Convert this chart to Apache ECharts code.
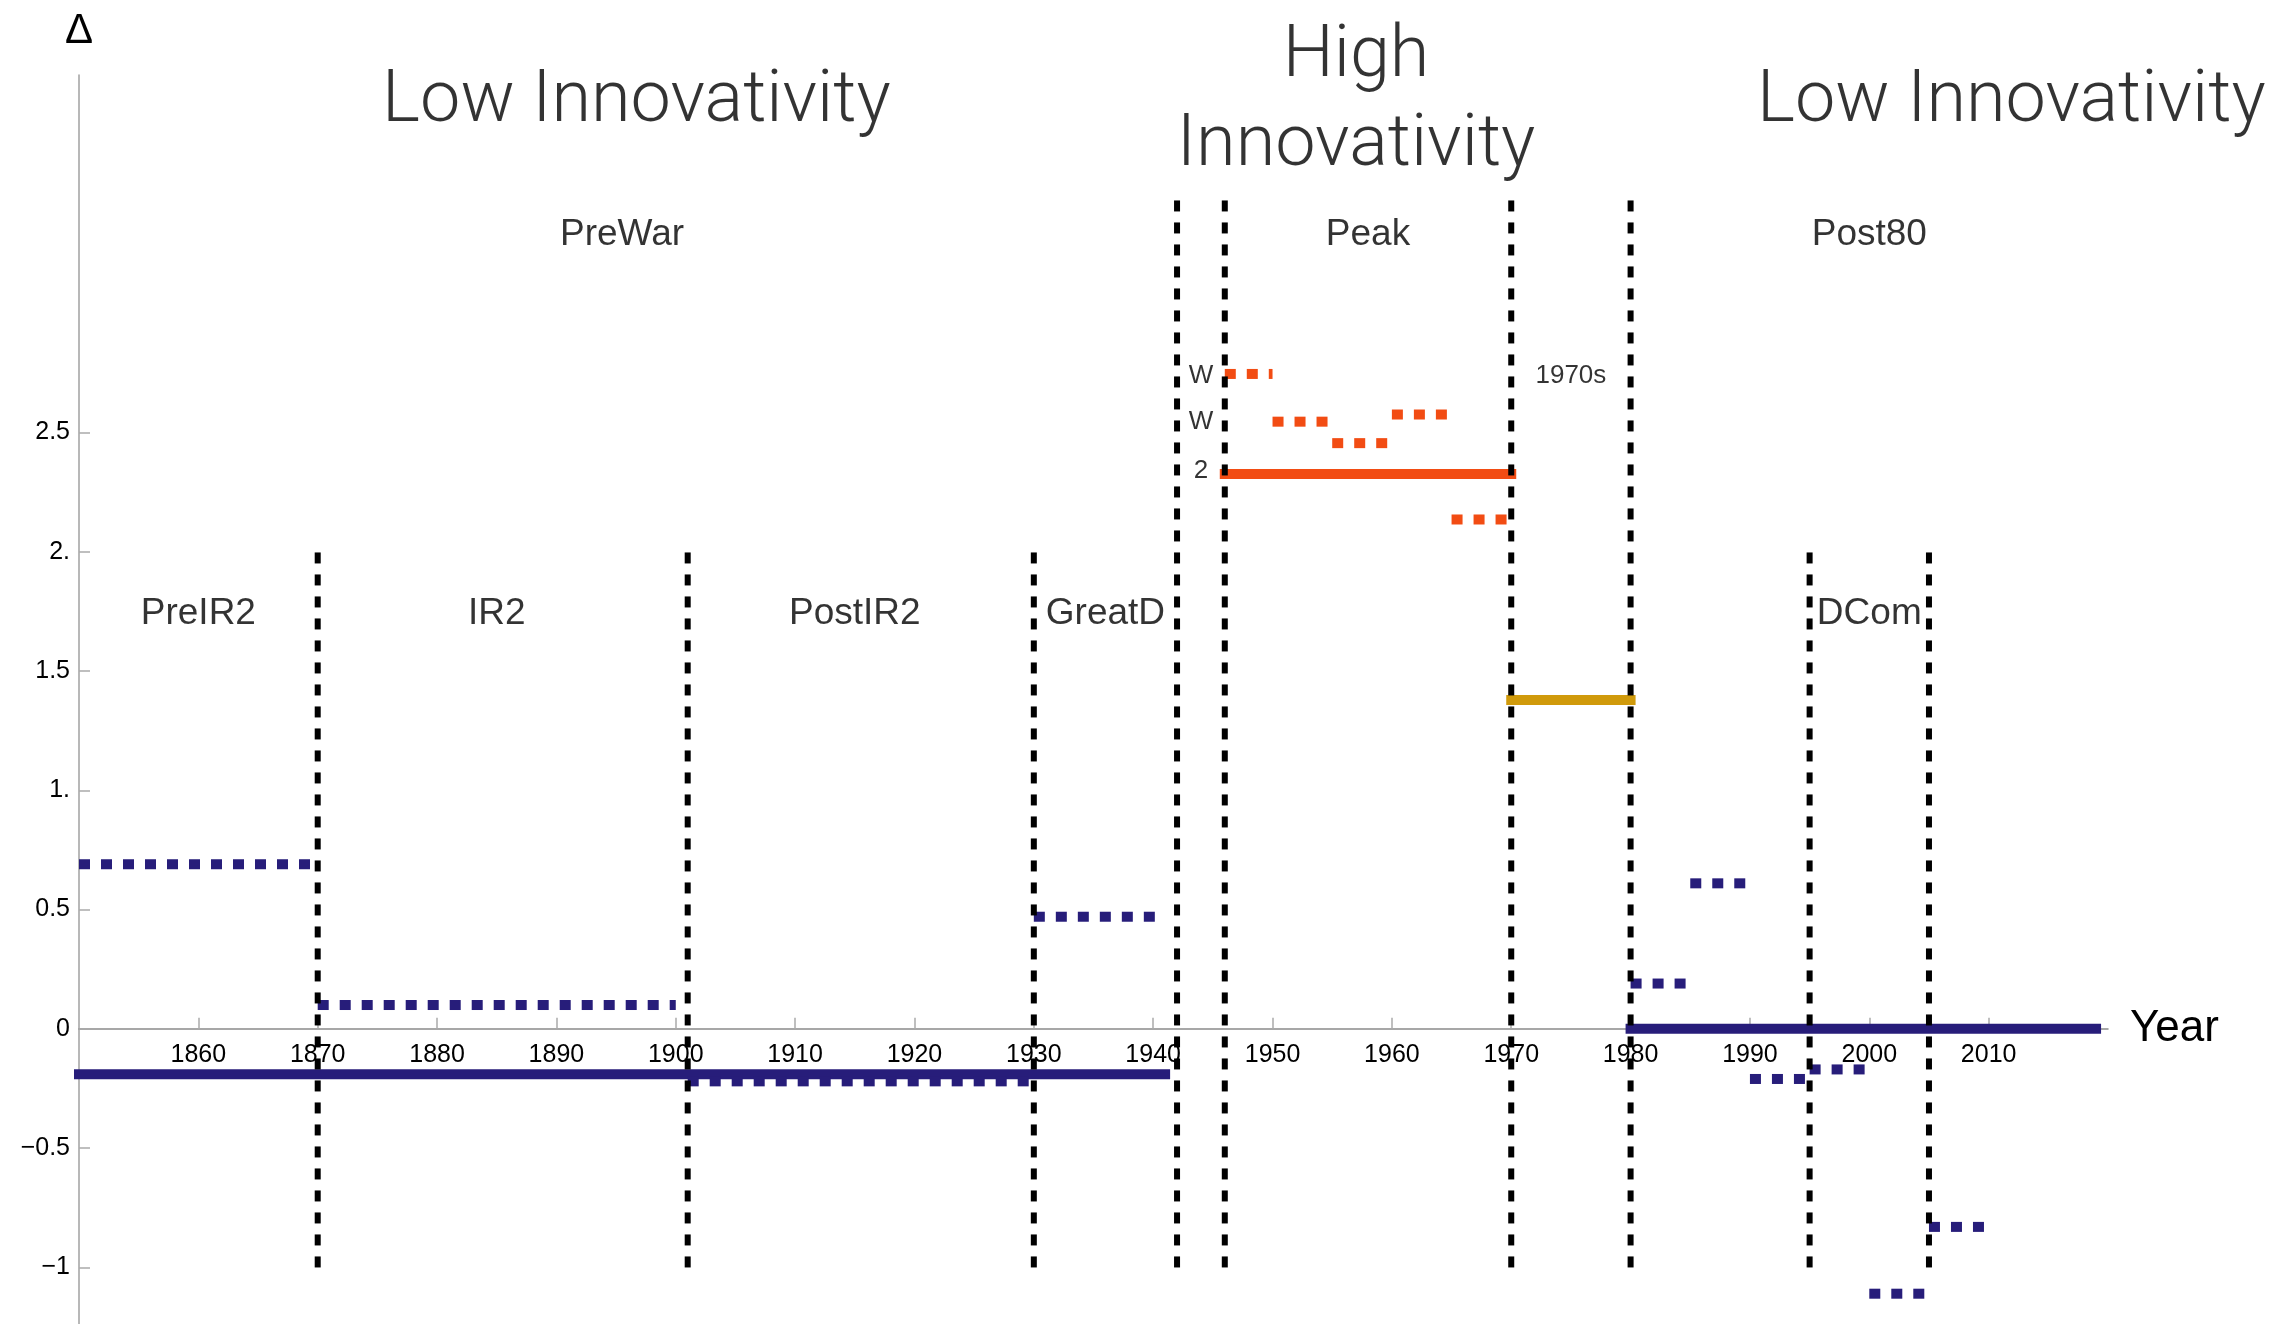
<!DOCTYPE html>
<html>
<head>
<meta charset="utf-8">
<script src="https://cdn.jsdelivr.net/npm/echarts@6/dist/echarts.min.js"></script>
<style>
html,body{margin:0;padding:0;background:#fff;}
#chart{width:2296px;height:1324px;}
</style>
</head>
<body>
<div id="chart"></div>
<script>
// ---- data ----
const xTicks = [1860, 1870, 1880, 1890, 1900, 1910, 1920, 1930, 1940, 1950, 1960, 1970, 1980, 1990, 2000, 2010];
const yTicks = [-1, -0.5, 0, 0.5, 1, 1.5, 2, 2.5];
const yTickLabels = ['\u22121', '\u22120.5', '0', '0.5', '1.', '1.5', '2.', '2.5'];

// [startYear, endYear, value]
const blueWhole = [[1850, 1941, -0.19], [1980, 2019, 0.0]];
const blueSub = [
  [1850, 1870, 0.69], [1870, 1900, 0.10], [1901, 1930, -0.22], [1930, 1941, 0.47],
  [1980, 1985, 0.19], [1985, 1990, 0.61], [1990, 1995, -0.21], [1995, 2000, -0.17],
  [2000, 2005, -1.11], [2005, 2010, -0.83]
];
const peakWhole = [[1946, 1970, 2.326]];
const peakSub = [[1946, 1950, 2.745], [1950, 1955, 2.545], [1955, 1960, 2.455], [1960, 1965, 2.575], [1965, 1970, 2.135]];
const seventiesWhole = [[1970, 1980, 1.378]];

// [year, top of boundary line]
const breaks = [[1870, 2], [1901, 2], [1930, 2], [1942, 3.5], [1946, 3.5], [1970, 3.5], [1980, 3.5], [1995, 2], [2005, 2]];
const breakBottom = -1;

// annotation texts: [year, value, text]
const titles = [[1896.7, 3.882, 'Low Innovativity'], [1957, 3.882, 'High\nInnovativity'], [2011.9, 3.882, 'Low Innovativity']];
const periods = [[1895.5, 3.33, 'PreWar'], [1958, 3.33, 'Peak'], [2000, 3.33, 'Post80'],
  [1860, 1.74, 'PreIR2'], [1885, 1.74, 'IR2'], [1915, 1.74, 'PostIR2'], [1936, 1.74, 'GreatD'], [2000, 1.74, 'DCom']];
const smallNotes = [[1975, 2.738, '1970s'], [1944, 2.738, 'W'], [1944, 2.545, 'W'], [1944, 2.34, '2']];

// ---- styles / layout ----
const BLUE = '#271d7a', ORANGE = '#f24c13', GOLD = '#d09a0b';
const FONT = '"Liberation Sans", Arial, Helvetica, sans-serif';
const TITLE_FONT = 'Roboto, "Liberation Sans", Arial, sans-serif';
const W = 2296, H = 1324;
const GRID = { left: 79, right: 188, top: 75, bottom: 0 };
const Y_MIN = -1.237, Y_MAX = 3.998;
const gridH = H - GRID.top - GRID.bottom;
// x axis sits on the zero line: shift the bottom axis up by the pixel distance from bottom to y=0
const xAxisOffset = -gridH * (0 - Y_MIN) / (Y_MAX - Y_MIN);

function segs(arr, color, dashed, z) {
  return arr.map(function (s) {
    return {
      type: 'line', silent: true, symbol: 'none', z: z, animation: false,
      data: [[s[0], s[2]], [s[1], s[2]]],
      lineStyle: { color: color, width: 10, type: dashed ? [11, 11] : 'solid', cap: dashed ? 'butt' : 'square' }
    };
  });
}

const series = [].concat(
  segs(blueWhole, BLUE, false, 3),
  segs(blueSub, BLUE, true, 3),
  segs(peakWhole, ORANGE, false, 3),
  segs(peakSub, ORANGE, true, 3),
  segs(seventiesWhole, GOLD, false, 3),
  breaks.map(function (b) {
    return {
      type: 'line', silent: true, symbol: 'none', z: 5, animation: false,
      data: [[b[0], breakBottom], [b[0], b[1]]],
      lineStyle: { color: '#000', width: 6, type: [11, 11], cap: 'butt' }
    };
  })
);

function textSeries(arr, size, family, weight, lh) {
  return {
    type: 'scatter', silent: true, symbolSize: 1, z: 6, animation: false,
    itemStyle: { color: 'rgba(0,0,0,0)' },
    label: {
      show: true, position: 'inside', color: '#000', fontSize: size, fontFamily: family,
      fontWeight: weight, lineHeight: lh,
      formatter: function (p) { return p.data.name; }
    },
    data: arr.map(function (t) { return { value: [t[0], t[1]], name: t[2] }; })
  };
}
series.push(textSeries(titles, 72, TITLE_FONT, 300, 89));
series.push(textSeries(periods, 37, FONT, 'normal', 46));
series.push(textSeries(smallNotes, 26, FONT, 'normal', 32));

const chart = echarts.init(document.getElementById('chart'), null, { renderer: 'canvas' });
chart.setOption({
  animation: false,
  backgroundColor: '#fff',
  grid: { left: GRID.left, right: GRID.right, top: GRID.top, bottom: GRID.bottom, containLabel: false, outerBoundsMode: 'none' },
  xAxis: {
    type: 'value', min: 1850, max: 2020, position: 'bottom', offset: xAxisOffset,
    name: 'Year', nameLocation: 'end', nameGap: 22,
    nameTextStyle: { fontSize: 44, fontFamily: FONT, color: '#000', align: 'left', verticalAlign: 'middle' },
    axisLine: { onZero: false, lineStyle: { color: '#8a8a8a', width: 1.5 } },
    axisTick: { inside: true, length: 11, customValues: xTicks, lineStyle: { color: '#aaa', width: 1.5 } },
    axisLabel: {
      customValues: xTicks, fontSize: 25, fontFamily: FONT, color: '#000', margin: 14,
      formatter: function (v) { return String(Math.round(v)); }
    },
    splitLine: { show: false }
  },
  yAxis: {
    type: 'value', min: Y_MIN, max: Y_MAX,
    name: '\u0394', nameLocation: 'end', nameGap: 44,
    nameTextStyle: { fontSize: 42, fontFamily: FONT, color: '#000', align: 'center', verticalAlign: 'middle' },
    axisLine: { show: true, onZero: false, lineStyle: { color: '#a0a0a0', width: 1.5 } },
    axisTick: { show: true, inside: true, length: 11, customValues: yTicks, lineStyle: { color: '#aaa', width: 1.5 } },
    axisLabel: {
      customValues: yTicks, fontSize: 25, fontFamily: FONT, color: '#000', margin: 9,
      formatter: function (v) {
        for (let i = 0; i < yTicks.length; i++) { if (Math.abs(yTicks[i] - v) < 1e-9) return yTickLabels[i]; }
        return '';
      }
    },
    splitLine: { show: false }
  },
  series: series
});
</script>
</body>
</html>
